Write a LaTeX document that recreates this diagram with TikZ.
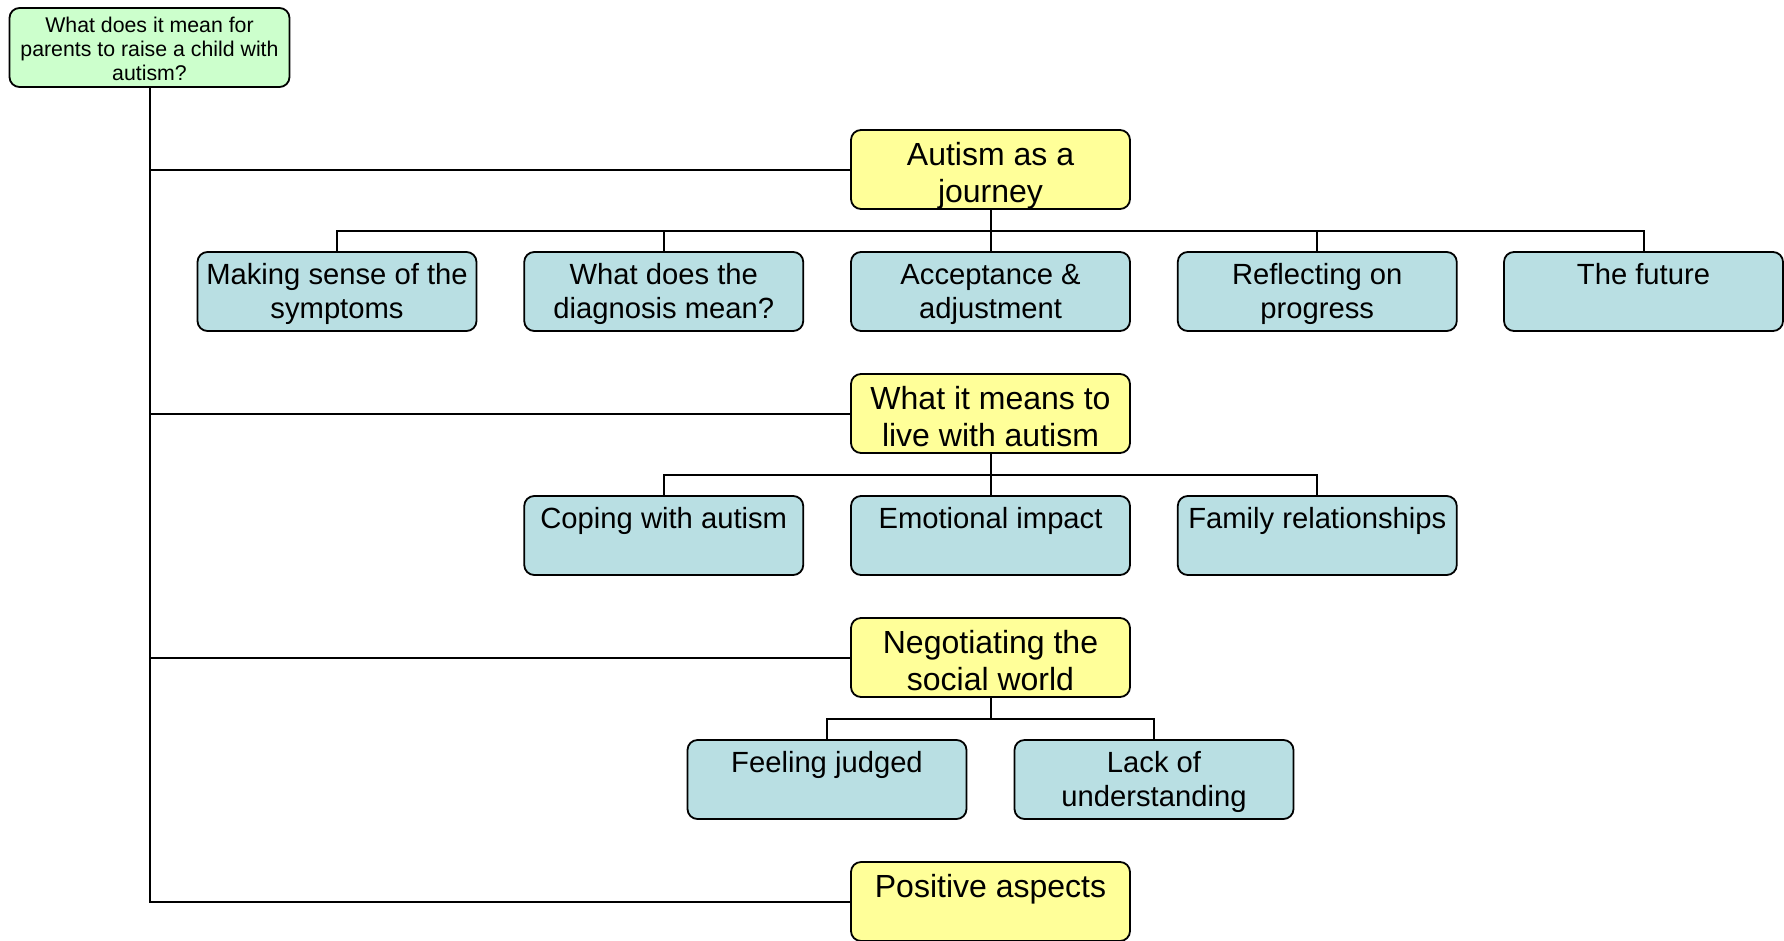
\documentclass[tikz,border=0pt]{standalone}
\usepackage{fontspec}
\setmainfont{Liberation Sans}
\definecolor{rootc}{RGB}{204,255,204}
\definecolor{themec}{RGB}{255,255,153}
\definecolor{subc}{RGB}{185,223,227}
\newcommand\roottxt[1]{\parbox[t][79pt][t]{277pt}{\centering\fontsize{21.3}{24}\selectfont\rule{0pt}{24.5pt}#1}}
\newcommand\themetxt[1]{\parbox[t][79pt][t]{274pt}{\centering\fontsize{32}{37}\selectfont\rule{0pt}{35pt}#1}}
\newcommand\subtxt[1]{\parbox[t][79pt][t]{274pt}{\centering\fontsize{29.2}{34}\selectfont\rule{0pt}{32pt}#1}}
\tikzset{
  basebox/.style={draw=black, line width=1.8pt, rounded corners=10pt, inner sep=0pt,
    minimum width=279pt, minimum height=79pt},
  rootbox/.style={basebox, fill=rootc, minimum width=280pt},
  themebox/.style={basebox, fill=themec},
  subbox/.style={basebox, fill=subc},
  conn/.style={draw=black, line width=2pt}
}
\begin{document}
\begin{tikzpicture}[x=1pt,y=-1pt]
\useasboundingbox (0,0) rectangle (1784,940);
\node[rootbox] (root) at (149.5,47.5) {\roottxt{What does it mean for\\parents to raise a child with\\autism?}};
% themes
\node[themebox] (t1) at (990.5,169.5) {\themetxt{Autism as a\\journey}};
\node[themebox] (t2) at (990.5,413.5) {\themetxt{What it means to\\live with autism}};
\node[themebox] (t3) at (990.5,657.5) {\themetxt{Negotiating the\\social world}};
\node[themebox] (t4) at (990.5,901.5) {\themetxt{Positive aspects}};
% row 1
\node[subbox] (a1) at (337,291.5) {\subtxt{Making sense of the\\symptoms}};
\node[subbox] (a2) at (663.75,291.5) {\subtxt{What does the\\diagnosis mean?}};
\node[subbox] (a3) at (990.5,291.5) {\subtxt{Acceptance \&\\adjustment}};
\node[subbox] (a4) at (1317.25,291.5) {\subtxt{Reflecting on\\progress}};
\node[subbox] (a5) at (1643.5,291.5) {\subtxt{The future}};
% row 2
\node[subbox] (b1) at (663.75,535.5) {\subtxt{Coping with autism}};
\node[subbox] (b2) at (990.5,535.5) {\subtxt{Emotional impact}};
\node[subbox] (b3) at (1317.25,535.5) {\subtxt{Family relationships}};
% row 3
\node[subbox] (c1) at (827,779.5) {\subtxt{Feeling judged}};
\node[subbox] (c2) at (1154,779.5) {\subtxt{Lack of\\understanding}};
% trunk
\draw[conn] (root.south) |- (t4.west);
\draw[conn] (root.south |- t1.west) -- (t1.west);
\draw[conn] (root.south |- t2.west) -- (t2.west);
\draw[conn] (root.south |- t3.west) -- (t3.west);
% children
\foreach \c in {a1,a2,a3,a4,a5} \draw[conn] (\c.north) -- ++(0,-20) -| (t1.south);
\foreach \c in {b1,b2,b3} \draw[conn] (\c.north) -- ++(0,-20) -| (t2.south);
\foreach \c in {c1,c2} \draw[conn] (\c.north) -- ++(0,-20) -| (t3.south);
\end{tikzpicture}
\end{document}
